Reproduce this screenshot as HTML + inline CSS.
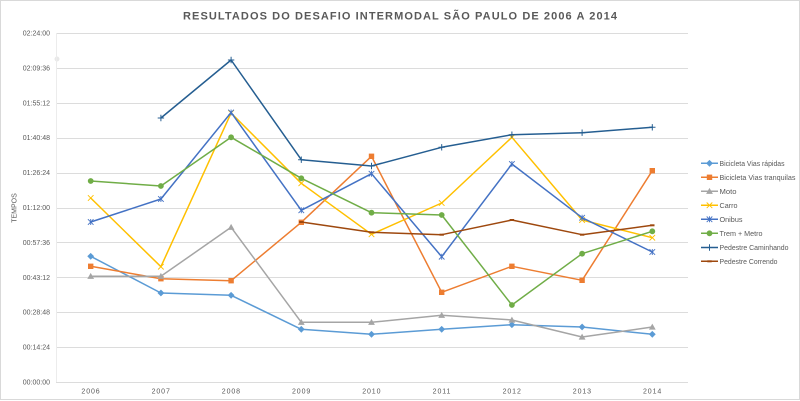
<!DOCTYPE html>
<html>
<head>
<meta charset="utf-8">
<style>
  html,body{margin:0;padding:0;background:#fff;}
  svg{display:block;}
  text{font-family:"Liberation Sans","DejaVu Sans",sans-serif;fill:#595959;}
</style>
</head>
<body>
<svg width="800" height="401" viewBox="0 0 800 401" xmlns="http://www.w3.org/2000/svg">
  <defs>
    <marker id="mDia" viewBox="-5 -5 10 10" refX="0" refY="0" markerWidth="10" markerHeight="10" markerUnits="userSpaceOnUse" overflow="visible">
      <polygon points="0,-3 3,0 0,3 -3,0" fill="#5B9BD5" stroke="#5B9BD5" stroke-width="0.6"/>
    </marker>
    <marker id="mSq" viewBox="-5 -5 10 10" refX="0" refY="0" markerWidth="10" markerHeight="10" markerUnits="userSpaceOnUse" overflow="visible">
      <rect x="-2.7" y="-2.7" width="5.4" height="5.4" fill="#ED7D31"/>
    </marker>
    <marker id="mTri" viewBox="-5 -5 10 10" refX="0" refY="0" markerWidth="10" markerHeight="10" markerUnits="userSpaceOnUse" overflow="visible">
      <polygon points="0,-3.4 3.4,2.6 -3.4,2.6" fill="#A5A5A5"/>
    </marker>
    <marker id="mX" viewBox="-5 -5 10 10" refX="0" refY="0" markerWidth="10" markerHeight="10" markerUnits="userSpaceOnUse" overflow="visible">
      <path d="M-2.8,-2.8 L2.8,2.8 M-2.8,2.8 L2.8,-2.8" stroke="#FFC000" stroke-width="0.9" fill="none"/>
    </marker>
    <marker id="mStar" viewBox="-5 -5 10 10" refX="0" refY="0" markerWidth="10" markerHeight="10" markerUnits="userSpaceOnUse" overflow="visible">
      <path d="M-2.8,-2.8 L2.8,2.8 M-2.8,2.8 L2.8,-2.8 M0,-3 L0,3" stroke="#4472C4" stroke-width="0.9" fill="none"/>
    </marker>
    <marker id="mCirc" viewBox="-5 -5 10 10" refX="0" refY="0" markerWidth="10" markerHeight="10" markerUnits="userSpaceOnUse" overflow="visible">
      <circle cx="0" cy="0" r="2.9" fill="#70AD47"/>
    </marker>
    <marker id="mPlus" viewBox="-5 -5 10 10" refX="0" refY="0" markerWidth="10" markerHeight="10" markerUnits="userSpaceOnUse" overflow="visible">
      <path d="M-3.2,0 L3.2,0 M0,-3.2 L0,3.2" stroke="#255E91" stroke-width="1" fill="none"/>
    </marker>
    <marker id="mDash" viewBox="-5 -5 10 10" refX="0" refY="0" markerWidth="10" markerHeight="10" markerUnits="userSpaceOnUse" overflow="visible">
      <path d="M-2.2,0 L2.2,0" stroke="#9E480E" stroke-width="2" fill="none"/>
    </marker>
  </defs>

  <!-- chart border -->
  <rect x="0.5" y="0.5" width="799" height="399" fill="#fff" stroke="#d9d9d9" stroke-width="1"/>

  <!-- title -->
  <text x="183" y="19.6" font-size="11" font-weight="bold" textLength="434" lengthAdjust="spacing">RESULTADOS DO DESAFIO INTERMODAL SÃO PAULO DE 2006 A 2014</text>

  <!-- small artifact dot -->
  <circle cx="57" cy="59" r="2.5" fill="#d9d9d9" opacity="0.6"/>

  <!-- gridlines -->
  <g stroke="#dcdcdc" stroke-width="1">
    <line x1="56" y1="33.5" x2="688" y2="33.5"/>
    <line x1="56" y1="68.5" x2="688" y2="68.5"/>
    <line x1="56" y1="103.5" x2="688" y2="103.5"/>
    <line x1="56" y1="138.5" x2="688" y2="138.5"/>
    <line x1="56" y1="173.5" x2="688" y2="173.5"/>
    <line x1="56" y1="208.5" x2="688" y2="208.5"/>
    <line x1="56" y1="242.5" x2="688" y2="242.5"/>
    <line x1="56" y1="277.5" x2="688" y2="277.5"/>
    <line x1="56" y1="312.5" x2="688" y2="312.5"/>
    <line x1="56" y1="347.5" x2="688" y2="347.5"/>
    <line x1="56" y1="382.5" x2="688" y2="382.5"/>
  </g>
  <line x1="56.5" y1="33" x2="56.5" y2="382" stroke="#ececec" stroke-width="1"/>

  <!-- y labels -->
  <g font-size="7" text-anchor="end">
    <text x="50" y="35.5">02:24:00</text>
    <text x="50" y="70.4">02:09:36</text>
    <text x="50" y="105.3">01:55:12</text>
    <text x="50" y="140.2">01:40:48</text>
    <text x="50" y="175.1">01:26:24</text>
    <text x="50" y="210">01:12:00</text>
    <text x="50" y="244.9">00:57:36</text>
    <text x="50" y="279.8">00:43:12</text>
    <text x="50" y="314.7">00:28:48</text>
    <text x="50" y="349.6">00:14:24</text>
    <text x="50" y="384.5">00:00:00</text>
  </g>
  <text x="0" y="0" font-size="7" text-anchor="middle" transform="translate(16.5,208) rotate(-90)">TEMPOS</text>

  <!-- x labels -->
  <g font-size="7" text-anchor="middle" letter-spacing="0.9">
    <text x="91" y="393.5">2006</text>
    <text x="161.2" y="393.5">2007</text>
    <text x="231.4" y="393.5">2008</text>
    <text x="301.6" y="393.5">2009</text>
    <text x="371.8" y="393.5">2010</text>
    <text x="442" y="393.5">2011</text>
    <text x="512.2" y="393.5">2012</text>
    <text x="582.4" y="393.5">2013</text>
    <text x="652.6" y="393.5">2014</text>
  </g>

  <!-- series -->
  <g fill="none" stroke-width="1.5" stroke-linejoin="round" stroke-linecap="round">
    <polyline stroke="#5B9BD5" marker-start="url(#mDia)" marker-mid="url(#mDia)" marker-end="url(#mDia)"
      points="90.7,256.3 160.9,293 231.1,295.3 301.3,329.3 371.5,334.3 441.7,329.3 511.9,324.7 582.1,327 652.3,334.3"/>
    <polyline stroke="#ED7D31" marker-start="url(#mSq)" marker-mid="url(#mSq)" marker-end="url(#mSq)"
      points="90.7,266.3 160.9,278.7 231.1,280.7 301.3,222.3 371.5,156.3 441.7,292.3 511.9,266.3 582.1,280.3 652.3,170.7"/>
    <polyline stroke="#A5A5A5" marker-start="url(#mTri)" marker-mid="url(#mTri)" marker-end="url(#mTri)"
      points="90.7,276.3 160.9,276.3 231.1,227.3 301.3,322.3 371.5,322.3 441.7,315.3 511.9,320 582.1,337 652.3,327"/>
    <polyline stroke="#FFC000" marker-start="url(#mX)" marker-mid="url(#mX)" marker-end="url(#mX)"
      points="90.7,198 160.9,266.7 231.1,113 301.3,183.3 371.5,234.3 441.7,203 511.9,137.3 582.1,220 652.3,237.7"/>
    <polyline stroke="#4472C4" marker-start="url(#mStar)" marker-mid="url(#mStar)" marker-end="url(#mStar)"
      points="90.7,222 160.9,199 231.1,112.5 301.3,210.3 371.5,173.7 441.7,256.7 511.9,164 582.1,217.7 652.3,252"/>
    <polyline stroke="#70AD47" marker-start="url(#mCirc)" marker-mid="url(#mCirc)" marker-end="url(#mCirc)"
      points="90.7,181 160.9,186 231.1,137.3 301.3,178.3 371.5,212.7 441.7,215 511.9,305 582.1,253.7 652.3,231.3"/>
    <polyline stroke="#255E91" marker-start="url(#mPlus)" marker-mid="url(#mPlus)" marker-end="url(#mPlus)"
      points="160.9,118 231.1,60 301.3,159.7 371.5,166 441.7,147.3 511.9,134.7 582.1,132.7 652.3,127.3"/>
    <polyline stroke="#9E480E" marker-start="url(#mDash)" marker-mid="url(#mDash)" marker-end="url(#mDash)"
      points="301.3,222 371.5,232.3 441.7,234.7 511.9,220 582.1,234.7 652.3,225.3"/>
  </g>

  <!-- legend -->
  <g fill="none" stroke-width="1.5">
    <polyline stroke="#5B9BD5" marker-mid="url(#mDia)" points="701,163.3 709.5,163.3 718,163.3"/>
    <polyline stroke="#ED7D31" marker-mid="url(#mSq)" points="701,177.3 709.5,177.3 718,177.3"/>
    <polyline stroke="#A5A5A5" marker-mid="url(#mTri)" points="701,191.3 709.5,191.3 718,191.3"/>
    <polyline stroke="#FFC000" marker-mid="url(#mX)" points="701,205.3 709.5,205.3 718,205.3"/>
    <polyline stroke="#4472C4" marker-mid="url(#mStar)" points="701,219.3 709.5,219.3 718,219.3"/>
    <polyline stroke="#70AD47" marker-mid="url(#mCirc)" points="701,233.3 709.5,233.3 718,233.3"/>
    <polyline stroke="#255E91" marker-mid="url(#mPlus)" points="701,247.5 709.5,247.5 718,247.5"/>
    <polyline stroke="#9E480E" marker-mid="url(#mDash)" points="701,261.3 709.5,261.3 718,261.3"/>
  </g>
  <g font-size="7">
    <text x="719.5" y="165.8" textLength="65" lengthAdjust="spacingAndGlyphs">Bicicleta Vias rápidas</text>
    <text x="719.5" y="179.8" textLength="76" lengthAdjust="spacingAndGlyphs">Bicicleta Vias tranquilas</text>
    <text x="719.5" y="193.8" textLength="17" lengthAdjust="spacingAndGlyphs">Moto</text>
    <text x="719.5" y="207.8" textLength="18" lengthAdjust="spacingAndGlyphs">Carro</text>
    <text x="719.5" y="221.8" textLength="23" lengthAdjust="spacingAndGlyphs">Onibus</text>
    <text x="719.5" y="235.8" textLength="43" lengthAdjust="spacingAndGlyphs">Trem + Metro</text>
    <text x="719.5" y="250" textLength="69" lengthAdjust="spacingAndGlyphs">Pedestre Caminhando</text>
    <text x="719.5" y="263.8" textLength="58" lengthAdjust="spacingAndGlyphs">Pedestre Correndo</text>
  </g>
</svg>
</body>
</html>
